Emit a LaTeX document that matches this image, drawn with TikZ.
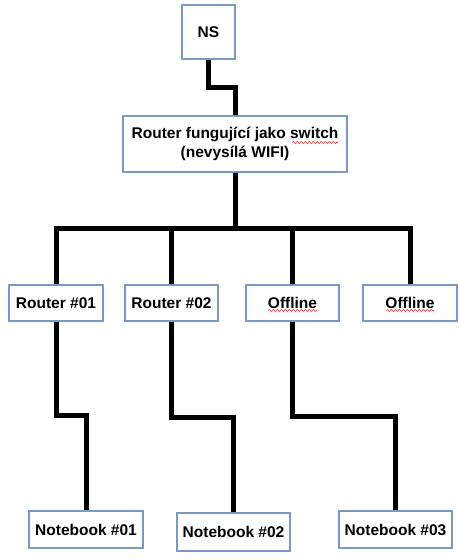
\documentclass[tikz,border=0pt]{standalone}
\usepackage{fontspec}
\setmainfont{Liberation Sans}
\usetikzlibrary{decorations.pathmorphing}
\definecolor{boxline}{RGB}{124,152,200}
\definecolor{squig}{RGB}{220,40,40}
\begin{document}
\begin{tikzpicture}[x=1pt,y=-1pt,
  box/.style={draw=boxline,line width=1.3pt,fill=white,inner sep=0pt,align=center,
    font=\fontsize{15.5}{19}\selectfont\bfseries},
  wire/.style={line width=5pt,line join=miter,line cap=butt},
  squiggle/.style={draw=squig,line width=0.6pt,decorate,decoration={snake,amplitude=0.9pt,segment length=4pt}}]
\useasboundingbox (0,0) rectangle (460,560);
% nodes
\node[box,minimum width=53pt,minimum height=54pt] (ns) at (208.5,32) {NS};
\node[box,minimum width=224pt,minimum height=56pt] (rt) at (235,144) {Router fungující jako switch\\(nevysílá WIFI)};
\node[box,minimum width=94pt,minimum height=36pt] (r1) at (56,303) {Router \#01};
\node[box,minimum width=93pt,minimum height=36pt] (r2) at (171.5,303) {Router \#02};
\node[box,minimum width=93pt,minimum height=36pt] (r3) at (292.5,303) {Offline};
\node[box,minimum width=94pt,minimum height=36pt] (r4) at (410,303) {Offline};
\node[box,minimum width=114pt,minimum height=37pt] (n1) at (86,529.5) {Notebook \#01};
\node[box,minimum width=113pt,minimum height=38pt] (n2) at (233.5,532) {Notebook \#02};
\node[box,minimum width=113pt,minimum height=37pt] (n3) at (395.5,529.5) {Notebook \#03};
\coordinate (bus) at (0,228);
% connectors
\draw[wire] (ns.south) -- ++(0,28) -| (rt.north);
\draw[wire] (rt.south) -- (rt.south |- bus);
\draw[wire] (r1.north) -- (r1.north |- bus) -- (r4.north |- bus) -- (r4.north);
\draw[wire] (r2.north) -- (r2.north |- bus);
\draw[wire] (r3.north) -- (r3.north |- bus);
\draw[wire] (r1.south) -- ++(0,94) -| (n1.north);
\draw[wire] (r2.south) -- ++(0,96) -| (n2.north);
\draw[wire] (r3.south) -- ++(0,95) -| (n3.north);
% box borders on top of wire ends
\foreach \n in {ns,rt,r1,r2,r3,r4,n1,n2,n3}{\draw[boxline,line width=1.3pt] (\n.south west) rectangle (\n.north east);}
% spell-check squiggles
\draw[squiggle] (292,142.5) -- (338,142.5);
\draw[squiggle] (268,310.5) -- (317,310.5);
\draw[squiggle] (386,310.5) -- (434,310.5);
\end{tikzpicture}
\end{document}
